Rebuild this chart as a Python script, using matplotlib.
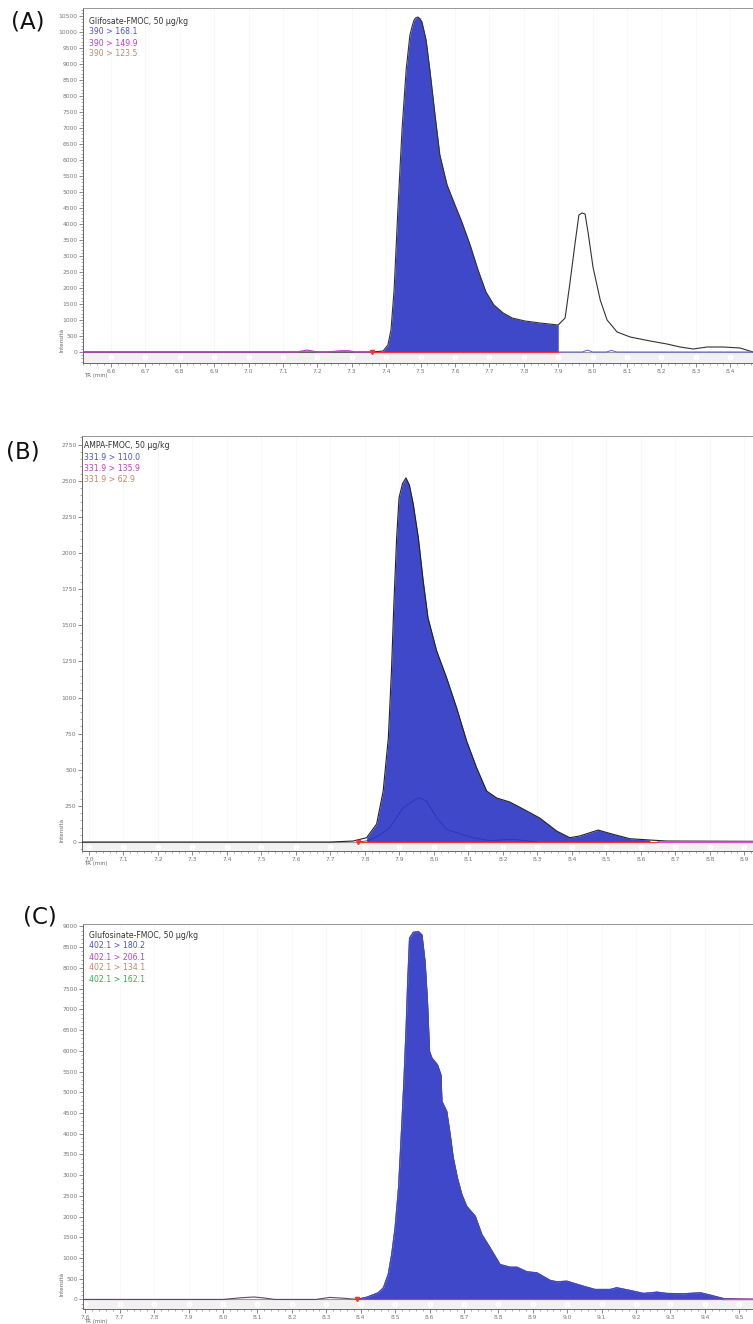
import numpy as np
import matplotlib
matplotlib.use("Agg")
import matplotlib.pyplot as plt
from matplotlib.ticker import MultipleLocator, AutoMinorLocator, FormatStrFormatter

W, H = 753, 1324

# ---- data ----
A_time = [6.52, 7.30, 7.36, 7.391, 7.405, 7.414, 7.423, 7.434, 7.446, 7.458, 7.469, 7.476,
          7.481, 7.486, 7.492, 7.498, 7.504, 7.516, 7.527, 7.542, 7.556, 7.577, 7.600, 7.620,
          7.644, 7.667, 7.690, 7.713, 7.740, 7.766, 7.803, 7.847, 7.900, 7.920, 7.934, 7.949,
          7.960, 7.969, 7.978, 7.987, 8.001, 8.022, 8.042, 8.071, 8.109, 8.167, 8.216, 8.254,
          8.292, 8.333, 8.379, 8.428, 8.466]
A_int = [0, 0, 0, 30, 219, 688, 1938, 4438, 6938, 8813, 9906, 10200,
         10375, 10440, 10469, 10420, 10313, 9750, 8813, 7406, 6156, 5219, 4594, 4063,
         3344, 2563, 1875, 1469, 1219, 1063, 969, 906, 844, 1063, 2156, 3406,
         4281, 4344, 4313, 3719, 2656, 1625, 1000, 625, 469, 344, 250, 156,
         94, 156, 156, 125, 0]
A_fill = (7.36, 7.90)
A_mag_time = [6.52, 7.14, 7.17, 7.20, 7.23, 7.27, 7.29, 7.31, 7.35]
A_mag_int = [0, 0, 60, 0, 0, 40, 40, 0, 0]
A_q_time = [7.90, 7.97, 7.985, 8.00, 8.04, 8.055, 8.07, 8.466]
A_q_int = [0, 0, 60, 0, 0, 50, 0, 0]
A_title = "Glifosate-FMOC, 50 µg/kg"
A_traces = ["390 > 168.1", "390 > 149.9", "390 > 123.5"]

B_time = [6.98, 7.70, 7.766, 7.805, 7.834, 7.853, 7.868, 7.877, 7.884, 7.892, 7.899, 7.909,
          7.919, 7.929, 7.940, 7.955, 7.969, 7.983, 8.008, 8.037, 8.066, 8.095, 8.124, 8.153,
          8.182, 8.220, 8.259, 8.307, 8.356, 8.394, 8.423, 8.476, 8.520, 8.568, 8.626, 8.675,
          8.925]
B_int = [0, 0, 7, 30, 125, 353, 722, 1184, 1648, 2105, 2383, 2480,
         2520, 2470, 2341, 2105, 1807, 1551, 1323, 1136, 928, 699, 513, 353,
         305, 277, 228, 166, 76, 30, 42, 83, 53, 23, 14, 7,
         5]
B_fill = (7.78, 8.65)
B_q_time = [7.78, 7.81, 7.84, 7.872, 7.911, 7.955, 7.979, 8.008, 8.037, 8.075, 8.114, 8.16,
            8.23, 8.28, 8.30]
B_q_int = [0, 10, 45, 99, 238, 307, 284, 168, 88, 57, 30, 10, 20, 5, 0]
B_mag_time = [8.65, 8.925]
B_mag_int = [0, 0]
B_title = "AMPA-FMOC, 50 µg/kg"
B_traces = ["331.9 > 110.0", "331.9 > 135.9", "331.9 > 62.9"]

C_time = [7.593, 8.00, 8.05, 8.09, 8.12, 8.15, 8.27, 8.31, 8.35, 8.389,
          8.418, 8.451, 8.466, 8.480, 8.490, 8.500, 8.510, 8.519, 8.526, 8.532, 8.537, 8.542,
          8.553, 8.568, 8.578, 8.587, 8.594, 8.600, 8.607, 8.623, 8.633, 8.636, 8.650, 8.660,
          8.669, 8.681, 8.694, 8.708, 8.733, 8.752, 8.776, 8.805, 8.834, 8.854, 8.883, 8.912,
          8.951, 8.970, 8.999, 9.047, 9.081, 9.125, 9.144, 9.183, 9.222, 9.261, 9.290, 9.338,
          9.387, 9.416, 9.453, 9.540]
C_int = [0, 0, 40, 60, 35, 0, 0, 50, 30, 0,
         55, 161, 282, 602, 1084, 1728, 2692, 4137, 5342, 6547, 7752, 8716,
         8860, 8875, 8795, 8152, 7188, 5983, 5824, 5663, 5422, 4779, 4538, 3976,
         3414, 2932, 2530, 2248, 2007, 1566, 1246, 843, 778, 778, 667, 643,
         458, 426, 441, 320, 241, 241, 282, 217, 145, 176, 145, 137,
         161, 104, 24, 10]
C_fill = (8.389, 9.453)
C_mag_time = [9.453, 9.540]
C_mag_int = [0, 0]
C_title = "Glufosinate-FMOC, 50 µg/kg"
C_traces = ["402.1 > 180.2", "402.1 > 206.1", "402.1 > 134.1", "402.1 > 162.1"]

TRACE_COLORS = ["#4a52d6", "#c23ccc", "#c0876a", "#2fb34f"]
FILL = "#3f48c9"


def px_box(left, top, right, bottom):
    return [left / W, 1 - bottom / H, (right - left) / W, (bottom - top) / H]


def fpos(x, y):
    return x / W, 1 - y / H


def panel(box, time, inten, fill, xlim, ylim, ystep, xstart, xend, edge, fill_edge=None):
    ax = fig.add_axes(px_box(*box))
    t = np.array(time)
    i = np.array(inten)
    mask = (t >= fill[0]) & (t <= fill[1])
    ax.axhspan(ylim[0], 0, color="#f1f1f1", zorder=0)
    xt = np.round(np.arange(xstart, xend + 0.001, 0.1), 1)
    ax.scatter(xt, np.full(len(xt), ylim[0] / 2), s=10, color="white", zorder=1)
    ax.axhline(0, color="#9a9a9a", lw=0.8, zorder=2)
    ax.fill_between(t, 0, i, where=mask, color=FILL, lw=0, zorder=3)
    ax.plot(t, i, color=edge, lw=0.8, zorder=4)
    if fill_edge:
        ax.plot(t[mask], i[mask], color=fill_edge, lw=0.9, zorder=4)
    ax.plot(fill, [0, 0], color="#ff3030", lw=0.8, zorder=5)
    ax.plot([fill[0]], [0], marker="v", color="#ff3030", ms=3, zorder=6)
    ax.set_xlim(xlim)
    ax.set_ylim(ylim)
    ax.set_xticks(xt)
    ax.xaxis.set_major_formatter(FormatStrFormatter("%.1f"))
    ax.xaxis.set_minor_locator(AutoMinorLocator(5))
    ax.yaxis.set_major_locator(MultipleLocator(ystep))
    ax.yaxis.set_minor_locator(AutoMinorLocator(5))
    ax.grid(True, axis="x", which="major", color="#f5f5f5", lw=0.5)
    ax.tick_params(which="major", length=3, width=0.6, color="#777", labelsize=4.3,
                   labelcolor="#777", pad=1.0)
    ax.tick_params(which="minor", length=1.6, width=0.5, color="#888")
    for s in ["left", "bottom"]:
        ax.spines[s].set_color("#666")
        ax.spines[s].set_linewidth(0.7)
    ax.spines["top"].set_color("#888")
    ax.spines["top"].set_linewidth(0.6)
    ax.spines["right"].set_visible(False)
    return ax


def labels(tag, tag_xy, title, traces, text_xy, intens_y, tr_y):
    fig.text(*fpos(*tag_xy), tag, fontsize=16.5, ha="center", va="center", color="#111")
    x, y = text_xy
    fig.text(*fpos(x, y), title, fontsize=5.6, color="#333", va="center")
    for k, tr in enumerate(traces):
        fig.text(*fpos(x, y + 11 * (k + 1)), tr, fontsize=5.6, color=TRACE_COLORS[k], va="center")
    fig.text(*fpos(62, intens_y), "Intensità", fontsize=4.0, color="#666", rotation=90,
             ha="center", va="center")
    fig.text(*fpos(84, tr_y), "TR (min)", fontsize=4.0, color="#666", va="center")


fig = plt.figure(figsize=(W / 100, H / 100), dpi=100)

axA = panel((83, 8, 753, 363), A_time, A_int, A_fill, (6.519, 8.466), (-344, 10750), 500,
            6.6, 8.4, "#333")
axA.plot(A_mag_time, A_mag_int, color="#c23ccc", lw=0.9, zorder=4)
axA.plot(A_q_time, A_q_int, color="#5560e0", lw=0.7, zorder=4)
labels("(A)", (28, 22), A_title, A_traces, (89, 21), 340, 375)

axB = panel((82, 436, 753, 851), B_time, B_int, B_fill, (6.980, 8.925), (-62, 2810), 250,
            7.0, 8.9, "#222")
axB.plot(B_q_time, B_q_int, color="#2a34b8", lw=0.6, zorder=4)
axB.plot(B_mag_time, B_mag_int, color="#e040e0", lw=1.2, zorder=4)
labels("(B)", (23, 452), B_title, B_traces, (84, 446), 830, 863)

axC = panel((83, 924, 753, 1309), C_time, C_int, C_fill, (7.593, 9.540), (-230, 9060), 500,
            7.6, 9.5, "#5a4a6a", fill_edge=FILL)
axC.plot(C_mag_time, C_mag_int, color="#d040e0", lw=1.0, zorder=4)
labels("(C)", (40, 917), C_title, C_traces, (89, 935), 1284, 1321.5)

fig.savefig("out.png", dpi=100)
